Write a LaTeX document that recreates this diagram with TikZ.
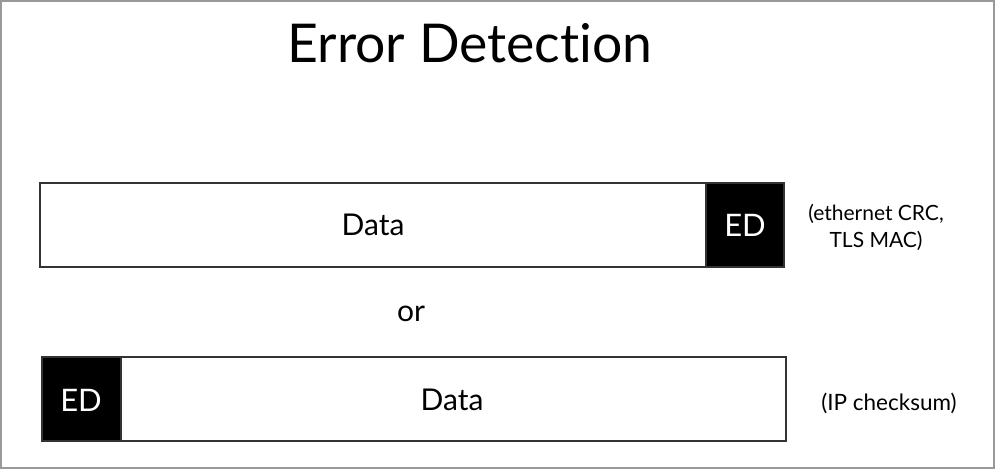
\documentclass[tikz,border=0pt]{standalone}
\usepackage{fontspec}
\setmainfont[RawFeature={-liga,-dlig}]{Lato}
\begin{document}
\begin{tikzpicture}[x=1pt,y=-1pt,
  frame/.style={draw=black!80,line width=1.8pt,fill=white},
  edbox/.style={draw=black!80,line width=1.8pt,fill=black},
  lbl/.style={inner sep=0pt,font=\fontsize{30}{33}\selectfont},
  edlbl/.style={inner sep=0pt,text=white,font=\fontsize{31}{33}\selectfont},
  note/.style={inner sep=0pt,align=center,font=\fontsize{21}{27}\selectfont}]
\useasboundingbox (0,0) rectangle (995,469);
\draw[black!40,line width=1.2pt] (1,1) rectangle (994,468);
\node[inner sep=0pt,font=\fontsize{53.5}{58}\selectfont] (title) at (470,43) {Error Detection};
% first frame
\draw[frame] (40,183) rectangle (784,267);
\draw[edbox] (706,183) rectangle (784,267);
\node[lbl] (data1) at (373,225) {Data};
\node[edlbl] (ed1) at (745,225) {ED};
\node[note] (n1) at (876,227) {(ethernet CRC,\\TLS MAC)};
\node[lbl] (or) at (411,314) {or};
% second frame
\draw[frame] (42,357) rectangle (786,441);
\draw[edbox] (42,357) rectangle (121,441);
\node[lbl] (data2) at (452,400) {Data};
\node[edlbl] (ed2) at (81,400) {ED};
\node[note,font=\fontsize{22.5}{27}\selectfont] (n2) at (889,403) {(IP checksum)};
\end{tikzpicture}
\end{document}
